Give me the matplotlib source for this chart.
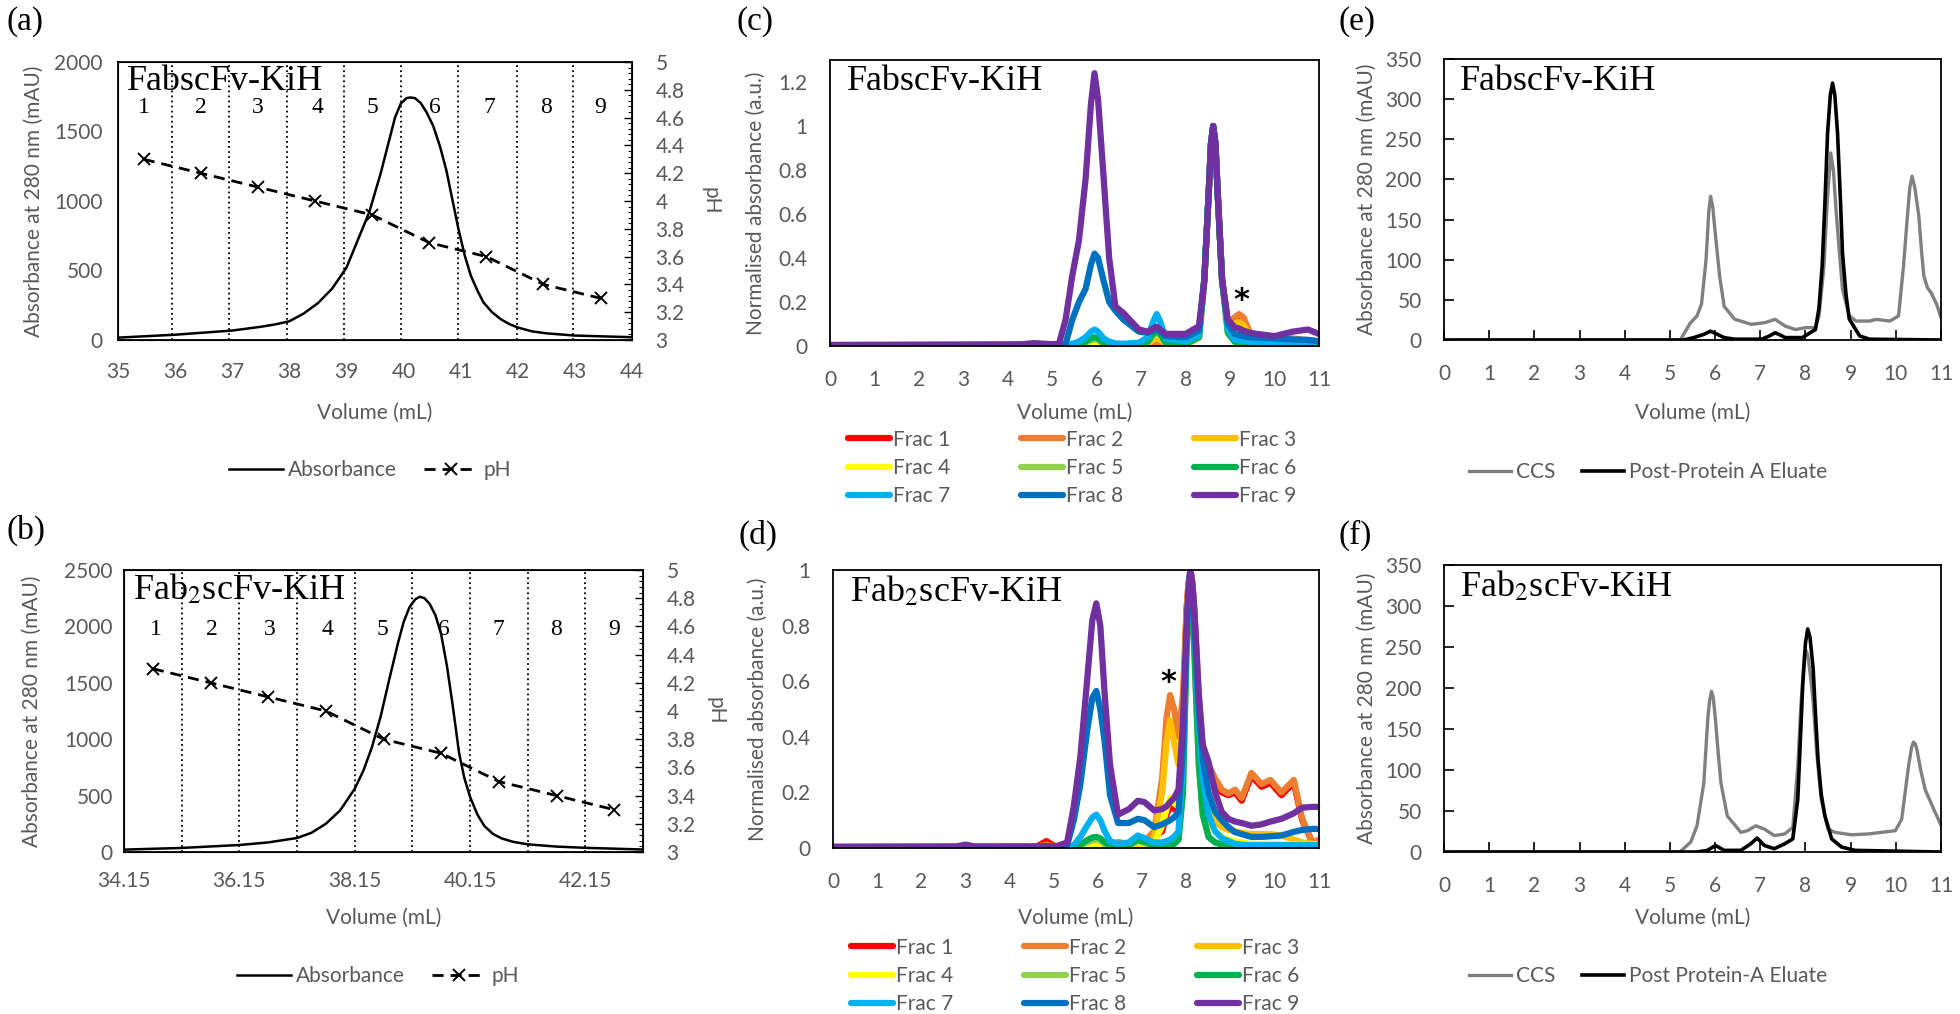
import matplotlib
matplotlib.use("Agg")
import matplotlib.pyplot as plt
from matplotlib.lines import Line2D
from matplotlib.ticker import MultipleLocator, FuncFormatter

# ---------------- values ----------------
# (a) FabscFv-KiH, pH gradient elution
vol_a = [35, 36, 37, 37.5, 37.75, 38, 38.25, 38.5, 38.75, 39, 39.2, 39.4, 39.6, 39.75, 39.85,
         39.95, 40.05, 40.12, 40.2, 40.3, 40.4, 40.52, 40.64, 40.75, 40.86, 40.96, 41.07,
         41.18, 41.3, 41.4, 41.55, 41.7, 41.85, 42, 42.25, 42.5, 43, 44]
abs_a = [17, 38, 68, 95, 112, 135, 190, 265, 370, 520, 720, 920, 1200, 1440, 1600,
         1700, 1740, 1745, 1740, 1705, 1640, 1540, 1390, 1220, 1000, 800, 610,
         460, 350, 270, 200, 150, 115, 90, 62, 48, 32, 20]
ph_vol_a = [35.45, 36.45, 37.45, 38.45, 39.45, 40.45, 41.45, 42.45, 43.45]
ph_a = [4.3, 4.2, 4.1, 4.0, 3.9, 3.7, 3.6, 3.4, 3.3]
cuts_a = [35.95, 36.95, 37.96, 38.96, 39.95, 40.96, 41.98, 42.97]
frac_x_a = [35.45, 36.45, 37.45, 38.5, 39.45, 40.55, 41.5, 42.5, 43.45]

# (b) Fab2scFv-KiH, pH gradient elution
vol_b = [34.15, 35.15, 36.15, 36.65, 37.15, 37.4, 37.65, 37.9, 38.15, 38.3, 38.45, 38.6,
         38.75, 38.9, 39.0, 39.1, 39.2, 39.28, 39.36, 39.45, 39.55, 39.65, 39.75, 39.85,
         39.96, 40.05, 40.15, 40.28, 40.4, 40.55, 40.7, 40.9, 41.15, 41.65, 42.15, 43.15]
abs_b = [21, 36, 62, 85, 124, 170, 250, 370, 560, 720, 930, 1200,
         1530, 1850, 2040, 2170, 2240, 2263, 2250, 2200, 2100, 1930, 1650, 1300,
         880, 660, 490, 330, 230, 160, 120, 90, 68, 48, 37, 22]
ph_vol_b = [34.65, 35.65, 36.65, 37.65, 38.65, 39.65, 40.65, 41.65, 42.65]
ph_b = [4.3, 4.2, 4.1, 4.0, 3.8, 3.7, 3.5, 3.4, 3.3]
cuts_b = [34.15, 35.15, 36.15, 37.15, 38.15, 39.15, 40.15, 41.15, 42.15]
frac_x_b = [34.7, 35.67, 36.67, 37.68, 38.63, 39.7, 40.65, 41.64, 42.65]
xticks_b = [34.15, 36.15, 38.15, 40.15, 42.15]

frac_names = ["Frac 1", "Frac 2", "Frac 3", "Frac 4", "Frac 5",
              "Frac 6", "Frac 7", "Frac 8", "Frac 9"]
frac_colors = ["#FF0000", "#ED7D31", "#FFC000", "#FFFF00", "#92D050",
               "#00B050", "#00B0F0", "#0070C0", "#7030A0"]

# (c) SEC of FabscFv-KiH fractions
vol_c = [0, 4.3, 4.6, 5.0, 5.15, 5.3, 5.45, 5.6, 5.75, 5.87, 5.95, 6.03, 6.15, 6.28, 6.42,
         6.6, 6.95, 7.15, 7.27, 7.35, 7.43, 7.55, 8.0, 8.3, 8.42, 8.52, 8.57, 8.62, 8.67,
         8.72, 8.82, 8.95, 9.1, 9.2, 9.3, 9.45, 9.6, 10.0, 10.4, 10.75, 11.0]
c_frac1 = [0.002, 0.002, 0.002, 0.002, 0.002, 0.002, 0.002, 0.002, 0.002, 0.002, 0.002, 0.002,
           0.002, 0.002, 0.002, 0.002, 0.002, 0.004, 0.008, 0.01, 0.008, 0.004, 0.005, 0.04,
           0.3, 0.7, 0.92, 1.0, 0.92, 0.7, 0.3, 0.09, 0.11, 0.12, 0.11, 0.05, 0.03, 0.022, 0.03,
           0.02, 0.012]
c_frac2 = [0.002, 0.002, 0.002, 0.002, 0.002, 0.002, 0.002, 0.002, 0.003, 0.004, 0.004, 0.004,
           0.003, 0.002, 0.002, 0.002, 0.003, 0.006, 0.012, 0.015, 0.012, 0.005, 0.005, 0.04,
           0.3, 0.7, 0.92, 1.0, 0.92, 0.7, 0.3, 0.1, 0.13, 0.145, 0.13, 0.06, 0.035, 0.025, 0.035,
           0.025, 0.015]
c_frac3 = [0.002, 0.002, 0.002, 0.002, 0.002, 0.002, 0.002, 0.004, 0.006, 0.009, 0.01, 0.009,
           0.005, 0.003, 0.002, 0.002, 0.004, 0.012, 0.028, 0.035, 0.028, 0.01, 0.006, 0.04,
           0.3, 0.7, 0.92, 1.0, 0.92, 0.7, 0.3, 0.09, 0.1, 0.11, 0.095, 0.05, 0.03, 0.025, 0.03,
           0.02, 0.015]
c_frac4 = [0.002, 0.002, 0.002, 0.002, 0.002, 0.002, 0.002, 0.005, 0.01, 0.017, 0.02, 0.017,
           0.008, 0.004, 0.003, 0.003, 0.005, 0.018, 0.045, 0.055, 0.045, 0.014, 0.008, 0.04,
           0.3, 0.7, 0.92, 1.0, 0.92, 0.7, 0.3, 0.08, 0.075, 0.08, 0.07, 0.04, 0.025, 0.02, 0.018,
           0.015, 0.012]
c_frac5 = [0.002, 0.002, 0.002, 0.002, 0.002, 0.002, 0.002, 0.007, 0.016, 0.026, 0.03, 0.026,
           0.012, 0.005, 0.004, 0.004, 0.005, 0.018, 0.048, 0.06, 0.048, 0.014, 0.01, 0.04,
           0.3, 0.7, 0.92, 1.0, 0.92, 0.7, 0.3, 0.06, 0.02, 0.015, 0.012, 0.01, 0.01, 0.01, 0.008,
           0.008, 0.006]
c_frac6 = [0.002, 0.002, 0.002, 0.002, 0.002, 0.002, 0.002, 0.008, 0.02, 0.035, 0.04, 0.035,
           0.015, 0.006, 0.004, 0.004, 0.005, 0.02, 0.055, 0.07, 0.055, 0.015, 0.01, 0.04,
           0.3, 0.7, 0.92, 1.0, 0.92, 0.7, 0.3, 0.06, 0.02, 0.015, 0.012, 0.01, 0.01, 0.01, 0.008,
           0.008, 0.006]
c_frac7 = [0.002, 0.002, 0.002, 0.002, 0.002, 0.003, 0.01, 0.02, 0.04, 0.065, 0.075, 0.065,
           0.035, 0.02, 0.012, 0.01, 0.015, 0.04, 0.11, 0.145, 0.11, 0.035, 0.02, 0.05,
           0.3, 0.7, 0.92, 1.0, 0.92, 0.7, 0.3, 0.08, 0.03, 0.025, 0.022, 0.02, 0.018, 0.015, 0.013,
           0.012, 0.01]
c_frac8 = [0.003, 0.003, 0.003, 0.003, 0.003, 0.01, 0.12, 0.2, 0.26, 0.37, 0.42, 0.4,
           0.3, 0.2, 0.16, 0.12, 0.065, 0.06, 0.07, 0.075, 0.065, 0.045, 0.04, 0.07,
           0.3, 0.7, 0.92, 1.0, 0.92, 0.7, 0.3, 0.1, 0.055, 0.05, 0.045, 0.04, 0.038, 0.035, 0.03,
           0.028, 0.022]
c_frac9 = [0.005, 0.008, 0.013, 0.008, 0.01, 0.12, 0.32, 0.48, 0.76, 1.1, 1.24, 1.12,
           0.78, 0.4, 0.18, 0.15, 0.075, 0.065, 0.08, 0.088, 0.075, 0.055, 0.055, 0.09,
           0.3, 0.7, 0.92, 1.0, 0.92, 0.7, 0.3, 0.12, 0.085, 0.08, 0.07, 0.06, 0.055, 0.045, 0.065,
           0.075, 0.055]

# (d) SEC of Fab2scFv-KiH fractions
vol_d = [0, 2.8, 3.0, 3.2, 4.6, 4.83, 5.05, 5.3, 5.45, 5.6, 5.75, 5.87, 5.96, 6.05, 6.15, 6.27,
         6.45, 6.7, 6.9, 7.05, 7.27, 7.45, 7.55, 7.63, 7.72, 7.82, 7.92, 8.0, 8.045, 8.09, 8.135,
         8.18, 8.28, 8.37, 8.5, 8.65, 8.8, 8.95, 9.1, 9.25, 9.47, 9.7, 9.9, 10.15, 10.43, 10.62,
         10.85, 11.0]
d_frac1 = [0.003, 0.003, 0.004, 0.003, 0.004, 0.025, 0.004, 0.004, 0.004, 0.005, 0.006, 0.006, 0.006,
           0.006, 0.006, 0.01, 0.02, 0.015, 0.02, 0.02, 0.04, 0.06, 0.12, 0.15, 0.14, 0.14, 0.45, 0.85,
           0.95, 1.0, 0.95, 0.85, 0.5, 0.32, 0.28, 0.23, 0.2, 0.19, 0.2, 0.17, 0.26, 0.22, 0.235, 0.19,
           0.235, 0.1, 0.02, 0.02]
d_frac2 = [0.003, 0.003, 0.004, 0.003, 0.004, 0.012, 0.005, 0.005, 0.005, 0.005, 0.005, 0.006, 0.006,
           0.006, 0.006, 0.01, 0.02, 0.015, 0.02, 0.025, 0.06, 0.25, 0.47, 0.55, 0.5, 0.4, 0.55, 0.85,
           0.95, 1.0, 0.95, 0.85, 0.55, 0.35, 0.3, 0.25, 0.21, 0.196, 0.21, 0.18, 0.27, 0.23, 0.245, 0.2,
           0.245, 0.105, 0.02, 0.03]
d_frac3 = [0.003, 0.003, 0.004, 0.003, 0.003, 0.004, 0.003, 0.003, 0.003, 0.004, 0.005, 0.005, 0.005,
           0.005, 0.005, 0.005, 0.006, 0.008, 0.01, 0.01, 0.04, 0.2, 0.38, 0.46, 0.38, 0.3, 0.45, 0.8,
           0.93, 1.0, 0.93, 0.8, 0.5, 0.3, 0.15, 0.1, 0.075, 0.065, 0.06, 0.055, 0.05, 0.05, 0.05, 0.045,
           0.03, 0.02, 0.015, 0.012]
d_frac4 = [0.002, 0.002, 0.002, 0.002, 0.002, 0.002, 0.002, 0.002, 0.004, 0.008, 0.012, 0.014, 0.015,
           0.013, 0.008, 0.005, 0.005, 0.008, 0.02, 0.015, 0.02, 0.08, 0.14, 0.18, 0.16, 0.15, 0.35, 0.8,
           0.93, 1.0, 0.93, 0.8, 0.4, 0.2, 0.1, 0.06, 0.04, 0.03, 0.025, 0.02, 0.015, 0.015, 0.015, 0.013,
           0.012, 0.012, 0.012, 0.012]
d_frac5 = [0.002, 0.002, 0.002, 0.002, 0.002, 0.002, 0.002, 0.002, 0.004, 0.01, 0.02, 0.028, 0.03,
           0.026, 0.015, 0.007, 0.005, 0.009, 0.025, 0.018, 0.008, 0.008, 0.01, 0.012, 0.015, 0.03, 0.2,
           0.7, 0.88, 1.0, 0.88, 0.7, 0.3, 0.12, 0.04, 0.02, 0.012, 0.01, 0.01, 0.01, 0.01, 0.01, 0.01,
           0.01, 0.01, 0.01, 0.01, 0.01]
d_frac6 = [0.002, 0.002, 0.002, 0.002, 0.002, 0.002, 0.002, 0.002, 0.005, 0.012, 0.028, 0.038, 0.04,
           0.035, 0.02, 0.008, 0.005, 0.01, 0.03, 0.022, 0.008, 0.008, 0.01, 0.012, 0.015, 0.03, 0.2,
           0.7, 0.88, 1.0, 0.88, 0.7, 0.3, 0.12, 0.04, 0.02, 0.012, 0.01, 0.01, 0.01, 0.01, 0.01, 0.01,
           0.01, 0.01, 0.01, 0.01, 0.01]
d_frac7 = [0.002, 0.002, 0.002, 0.002, 0.002, 0.002, 0.002, 0.002, 0.01, 0.04, 0.08, 0.11, 0.12,
           0.1, 0.06, 0.025, 0.015, 0.02, 0.045, 0.035, 0.02, 0.02, 0.025, 0.03, 0.04, 0.06, 0.3,
           0.75, 0.92, 1.0, 0.93, 0.8, 0.45, 0.25, 0.12, 0.06, 0.035, 0.025, 0.015, 0.012, 0.01, 0.01,
           0.01, 0.01, 0.01, 0.01, 0.01, 0.01]
d_frac8 = [0.003, 0.003, 0.006, 0.003, 0.003, 0.003, 0.003, 0.01, 0.1, 0.23, 0.42, 0.54, 0.565,
           0.5, 0.38, 0.19, 0.09, 0.09, 0.105, 0.1, 0.075, 0.085, 0.093, 0.1, 0.11, 0.13, 0.35,
           0.75, 0.92, 1.0, 0.93, 0.8, 0.5, 0.32, 0.2, 0.13, 0.1, 0.075, 0.057, 0.05, 0.04, 0.04,
           0.042, 0.045, 0.058, 0.065, 0.069, 0.068]
d_frac9 = [0.005, 0.006, 0.012, 0.006, 0.006, 0.007, 0.006, 0.02, 0.15, 0.33, 0.6, 0.82, 0.88,
           0.8, 0.55, 0.3, 0.12, 0.14, 0.17, 0.165, 0.135, 0.14, 0.15, 0.165, 0.18, 0.21, 0.45,
           0.8, 0.93, 1.0, 0.95, 0.85, 0.55, 0.37, 0.31, 0.2, 0.13, 0.105, 0.095, 0.09, 0.08, 0.085,
           0.095, 0.105, 0.125, 0.145, 0.148, 0.148]

# (e) FabscFv-KiH: cell culture supernatant vs post protein A eluate
vol_e_ccs = [0, 5.23, 5.45, 5.6, 5.7, 5.8, 5.86, 5.9, 5.95, 6.0, 6.1, 6.2, 6.43, 6.8, 7.1,
             7.33, 7.55, 7.78, 8.0, 8.22, 8.3, 8.41, 8.48, 8.56, 8.62, 8.67, 8.75, 8.82, 8.97,
             9.12, 9.42, 9.57, 9.87, 10.06, 10.17, 10.25, 10.31, 10.36, 10.42, 10.51, 10.57,
             10.62, 10.7, 10.78, 10.9, 11]
ccs_e = [0, 0, 21, 30, 45, 100, 160, 179, 165, 135, 80, 42, 26, 19.5, 21.6,
         25.7, 17.4, 13, 15.4, 15.4, 30, 92, 170, 233, 210, 167, 110, 63, 30,
         23.6, 23.6, 25.7, 23.6, 30, 92, 150, 190, 204, 190, 154, 110,
         80, 65, 59, 45, 28]
vol_e_elu = [0, 5.3, 5.53, 5.75, 5.9, 6.05, 6.2, 6.43, 7.03, 7.2, 7.33, 7.45, 7.55, 7.93, 8.22,
             8.3, 8.37, 8.43, 8.49, 8.55, 8.6, 8.65, 8.71, 8.77, 8.82, 8.9, 8.97, 9.2, 9.42, 11]
elu_e = [0, 0, 3, 7, 11, 7, 3, 1, 1, 5, 9, 6, 3, 3, 13,
         40, 92, 170, 258, 305, 320, 305, 258, 180, 108, 55, 26, 5, 1, 0]

# (f) Fab2scFv-KiH: cell culture supernatant vs post protein A eluate
vol_f_ccs = [0, 5.22, 5.46, 5.6, 5.75, 5.84, 5.88, 5.92, 5.96, 6.01, 6.07, 6.13, 6.27, 6.57,
             6.72, 6.9, 7.09, 7.31, 7.54, 7.72, 7.83, 7.9, 7.98, 8.02, 8.05, 8.1, 8.17, 8.25,
             8.35, 8.5, 8.65, 9.02, 9.39, 9.69, 9.99, 10.13, 10.28, 10.35, 10.39, 10.43, 10.47,
             10.55, 10.65, 10.84, 10.99]
ccs_f = [0, 0, 12, 32, 84, 164, 185, 196, 188, 160, 120, 84, 44, 24,
         26, 32, 28, 20, 22, 30, 104, 180, 240, 245, 240, 220, 184, 120,
         64, 28, 24, 21, 22, 24, 26, 40, 104, 128, 134, 132, 124,
         100, 76, 52, 34]
vol_f_elu = [0, 5.6, 5.83, 6.01, 6.2, 6.57, 6.79, 6.93, 7.09, 7.31, 7.54, 7.72, 7.83, 7.89,
             7.94, 8.0, 8.05, 8.1, 8.17, 8.22, 8.28, 8.35, 8.43, 8.58, 8.8, 9.1, 11]
elu_f = [0, 0, 2, 8, 2, 2, 10, 17, 8, 4, 10, 16, 64, 140,
         204, 255, 272, 262, 224, 170, 112, 70, 44, 16, 6, 2, 0]

# ---------------- style / layout ----------------
W, H = 1960, 1014
GREY = "#595959"
SANS = "Lato"
SERIF = "Liberation Serif"
FS = 15
plt.rcParams["font.family"] = SANS
plt.rcParams["mathtext.fontset"] = "stix"

fig = plt.figure(figsize=(W / 100, H / 100), dpi=100)
fmt = FuncFormatter(lambda v, p: "%g" % v)


def fx(px):
    return px / W


def fy(py):
    return 1 - py / H


def box(rect):
    l, t, r, b = rect
    ax = fig.add_axes([l / W, 1 - b / H, (r - l) / W, (b - t) / H])
    for s in ax.spines.values():
        s.set_color("black")
        s.set_linewidth(1.3)
    return ax


def axis_titles(ax, rect, ytitle, ylab_x, xlab_y):
    l, t, r, b = rect
    ax.set_xlabel("Volume (mL)", fontsize=FS, color=GREY, va="center")
    ax.xaxis.set_label_coords(0.5, (b - xlab_y) / (b - t))
    ax.set_ylabel(ytitle, fontsize=FS, color=GREY, va="center")
    ax.yaxis.set_label_coords((ylab_x - l) / (r - l), 0.5)


def panel_title(ax, rect, text, x_px, y_px):
    l, t, r, b = rect
    ax.text((x_px - l) / (r - l), (b - y_px) / (b - t), text, transform=ax.transAxes,
            family=SERIF, fontsize=26, ha="left", va="center")


def letter(text, x_px, y_px):
    fig.text(fx(x_px), fy(y_px), text, family=SERIF, fontsize=24, ha="left", va="center")


def ph_panel(rect, vol, absb, ph_vol, ph, cuts, frac_x, frac_y, ymax, title, leg_xy,
             row_xlab_y, ylab_x, ph_lab_x, xpad, ypad):
    ax = box(rect)
    ax.plot(vol, absb, color="black", lw=1.8, zorder=3, solid_joinstyle="round")
    for c in cuts:
        ax.axvline(c, color="black", lw=1.3, ls=(0, (1, 1.8)), zorder=2)
    for i, xv in enumerate(frac_x):
        ax.text(xv, frac_y, str(i + 1), family=SERIF, fontsize=17, ha="center", va="center")
    ax.set_ylim(0, ymax)
    ax.yaxis.set_major_locator(MultipleLocator(500))
    ax.tick_params(axis="both", length=0, labelsize=FS, labelcolor=GREY)
    ax.tick_params(axis="x", pad=xpad)
    ax.tick_params(axis="y", pad=ypad)
    axis_titles(ax, rect, "Absorbance at 280 nm (mAU)", ylab_x, row_xlab_y)
    panel_title(ax, rect, title, rect[0] + 9, rect[1] + 20)

    ax2 = ax.twinx()
    ax2.plot(ph_vol, ph, color="black", lw=2.0, ls=(0, (4, 2.5)), marker="x", ms=8, mew=1.4)
    ax2.set_ylim(3, 5)
    ax2.yaxis.set_major_locator(MultipleLocator(0.2))
    ax2.yaxis.set_minor_locator(MultipleLocator(0.04))
    ax2.yaxis.set_major_formatter(fmt)
    ax2.tick_params(axis="y", which="major", direction="in", length=6, width=1,
                    labelsize=FS, labelcolor=GREY, pad=17)
    ax2.tick_params(axis="y", which="minor", direction="in", length=3, width=0.8)
    l, t, r, b = rect
    ax2.set_ylabel("pH", fontsize=FS, color=GREY, rotation=270, va="center")
    ax2.yaxis.set_label_coords((ph_lab_x - l) / (r - l), 0.5)

    handles = [Line2D([], [], color="black", lw=1.8),
               Line2D([], [], color="black", lw=2.0, ls=(0, (4, 2.5)), marker="x", ms=8, mew=1.4)]
    fig.legend(handles, ["Absorbance", "pH"], loc="center", bbox_to_anchor=(fx(leg_xy[0]), fy(leg_xy[1])),
               ncol=2, frameon=False, fontsize=FS, labelcolor=GREY, handlelength=2.6,
               handletextpad=0.25, columnspacing=1.3)
    return ax


def sec_panel(rect, vol, fracs, ymax, title, star_xy, leg_xy, row_xlab_y, ylab_x):
    ax = box(rect)
    lines = []
    for name, col, vals in zip(frac_names, frac_colors, fracs):
        ln, = ax.plot(vol, vals, color=col, lw=4.5, solid_capstyle="round", solid_joinstyle="round",
                      label=name)
        lines.append(ln)
    ax.set_xlim(0, 11)
    ax.set_ylim(0, ymax)
    ax.xaxis.set_major_locator(MultipleLocator(1))
    ax.yaxis.set_major_locator(MultipleLocator(0.2))
    ax.yaxis.set_major_formatter(fmt)
    ax.tick_params(axis="both", length=0, labelsize=FS, labelcolor=GREY)
    ax.tick_params(axis="x", pad=17)
    ax.tick_params(axis="y", pad=16)
    ax.text(star_xy[0], star_xy[1], "*", fontsize=22, fontweight="bold", ha="center", va="center",
            family="DejaVu Sans")
    axis_titles(ax, rect, "Normalised absorbance (a.u.)", ylab_x, row_xlab_y)
    panel_title(ax, rect, title, rect[0] + 17, rect[1] + 22)
    order = [0, 3, 6, 1, 4, 7, 2, 5, 8]  # row-major legend like the original
    fig.legend([lines[i] for i in order], [frac_names[i] for i in order], loc="center",
               bbox_to_anchor=(fx(leg_xy[0]), fy(leg_xy[1])), ncol=3, frameon=False, fontsize=FS,
               labelcolor=GREY, handlelength=2.0, handletextpad=0.15, columnspacing=3.4,
               labelspacing=0.4)
    return ax


def ccs_panel(rect, vol_ccs, ccs, vol_elu, elu, elu_name, title, leg_xy, row_xlab_y, ylab_x):
    ax = box(rect)
    l1, = ax.plot(vol_ccs, ccs, color="#808080", lw=2.4, solid_joinstyle="round")
    l2, = ax.plot(vol_elu, elu, color="black", lw=2.6, solid_joinstyle="round")
    ax.set_xlim(0, 11)
    ax.set_ylim(0, 350)
    ax.xaxis.set_major_locator(MultipleLocator(1))
    ax.yaxis.set_major_locator(MultipleLocator(50))
    ax.tick_params(axis="both", direction="in", length=7, width=1.2, labelsize=FS, labelcolor=GREY)
    ax.tick_params(axis="x", pad=17)
    ax.tick_params(axis="y", pad=16)
    axis_titles(ax, rect, "Absorbance at 280 nm (mAU)", ylab_x, row_xlab_y)
    panel_title(ax, rect, title, rect[0] + 16, rect[1] + 22)
    fig.legend([l1, l2], ["CCS", elu_name], loc="center", bbox_to_anchor=(fx(leg_xy[0]), fy(leg_xy[1])),
               ncol=2, frameon=False, fontsize=FS, labelcolor=GREY, handlelength=2.0,
               handletextpad=0.25, columnspacing=1.3)
    return ax


# ---------------- panels ----------------
rect_a = (118, 62, 632, 340)
rect_b = (124, 570, 643, 852)
rect_c = (830, 60, 1319, 346)
rect_d = (833, 570, 1319, 848)
rect_e = (1444, 59, 1941, 340)
rect_f = (1444, 565, 1941, 852)

ax_a = ph_panel(rect_a, vol_a, abs_a, ph_vol_a, ph_a, cuts_a, frac_x_a, 1675, 2000,
                "FabscFv-KiH", (370, 470), 413, 34, 710, 16, 11)
ax_a.set_xlim(35, 44)
ax_a.xaxis.set_major_locator(MultipleLocator(1))

ax_b = ph_panel(rect_b, vol_b, abs_b, ph_vol_b, ph_b, cuts_b, frac_x_b, 1975, 2500,
                "Fab$_2$scFv-KiH", (378, 976), 918, 32, 715, 14, 8)
ax_b.set_xlim(34.15, 43.15)
ax_b.set_xticks(xticks_b)
ax_b.set_xticklabels(["%.2f" % v for v in xticks_b])

sec_panel(rect_c, vol_c, [c_frac1, c_frac2, c_frac3, c_frac4, c_frac5, c_frac6, c_frac7,
                          c_frac8, c_frac9],
          1.3, "FabscFv-KiH", (9.25, 0.205), (1072, 468), 413, 756)
sec_panel(rect_d, vol_d, [d_frac1, d_frac2, d_frac3, d_frac4, d_frac5, d_frac6, d_frac7,
                          d_frac8, d_frac9],
          1.0, "Fab$_2$scFv-KiH", (7.59, 0.595), (1075, 976), 918, 758)

ccs_panel(rect_e, vol_e_ccs, ccs_e, vol_e_elu, elu_e, "Post-Protein A Eluate", "FabscFv-KiH",
          (1648, 472), 413, 1367)
ccs_panel(rect_f, vol_f_ccs, ccs_f, vol_f_elu, elu_f, "Post Protein-A Eluate", "Fab$_2$scFv-KiH",
          (1648, 976), 918, 1367)

letter("(a)", 6, 22)
letter("(b)", 6, 530)
letter("(c)", 736, 22)
letter("(d)", 738, 535)
letter("(e)", 1338, 22)
letter("(f)", 1338, 535)

fig.savefig("out.png", dpi=100)
